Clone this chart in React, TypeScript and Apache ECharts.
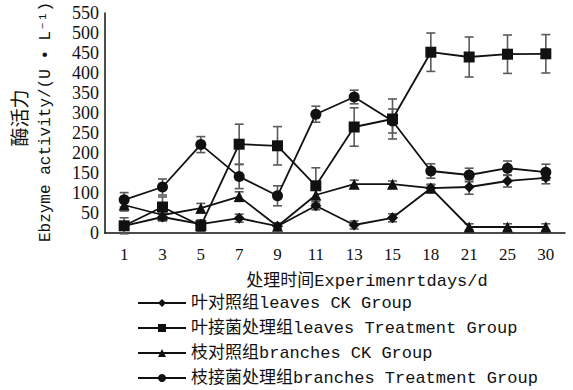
import React, { useEffect, useRef } from "react";
import * as echarts from "echarts";

// Sampling days (d)
const days = ["1", "3", "5", "7", "9", "11", "13", "15", "18", "21", "25", "30"];

// Enzyme activity, U·L⁻¹
const leavesCK = [18, 40, 22, 37, 17, 68, 20, 38, 112, 115, 130, 138];
const leavesCKErr = [10, 10, 8, 10, 8, 10, 10, 10, 10, 18, 15, 15];

const leavesTreat = [18, 65, 18, 222, 218, 118, 265, 285, 452, 440, 447, 448];
const leavesTreatErr = [20, 25, 15, 50, 48, 45, 48, 50, 48, 50, 48, 48];

const branchesCK = [70, 45, 62, 91, 17, 95, 122, 122, 112, 15, 15, 15];
const branchesCKErr = [15, 12, 12, 12, 8, 12, 10, 8, 8, 8, 8, 8];

const branchesTreat = [83, 115, 221, 141, 93, 297, 340, 280, 155, 145, 162, 152];
const branchesTreatErr = [18, 20, 20, 30, 25, 20, 17, 30, 18, 17, 18, 20];

const seriesNames = [
  "叶对照组leaves CK Group",
  "叶接菌处理组leaves Treatment Group",
  "枝对照组branches CK Group",
  "枝接菌处理组branches Treatment Group",
];

const FONT = "'Liberation Mono', 'Noto Sans CJK SC', monospace";
const SERIF = "'Liberation Serif', 'DejaVu Serif', serif";

function errorSeries(name: string, values: number[], errs: number[]) {
  return {
    type: "custom",
    name,
    z: 1,
    silent: true,
    data: values.map((v, i) => [i, v, errs[i]]),
    renderItem: (_params: any, api: any) => {
      const idx = api.value(0);
      const v = api.value(1);
      const e = api.value(2);
      const top = api.coord([idx, v + e]);
      const bot = api.coord([idx, v - e]);
      const half = 4.5;
      const style = { stroke: "#5a5a5a", lineWidth: 1.6 };
      return {
        type: "group",
        children: [
          { type: "line", shape: { x1: top[0], y1: top[1], x2: bot[0], y2: bot[1] }, style },
          { type: "line", shape: { x1: top[0] - half, y1: top[1], x2: top[0] + half, y2: top[1] }, style },
          { type: "line", shape: { x1: bot[0] - half, y1: bot[1], x2: bot[0] + half, y2: bot[1] }, style },
        ],
      };
    },
  };
}

function lineSeries(name: string, values: number[], symbol: string, size: number) {
  return {
    type: "line",
    name,
    z: 3,
    data: values,
    symbol,
    symbolSize: size,
    showAllSymbol: true,
    lineStyle: { color: "#111", width: 1.8 },
    itemStyle: { color: "#111" },
  };
}

export default function App() {
  const ref = useRef<HTMLDivElement>(null);

  useEffect(() => {
    document.body.style.margin = "0";
    if (!ref.current) return;
    const chart = echarts.init(ref.current, null, { renderer: "svg" });
    chart.setOption({
      animation: false,
      backgroundColor: "#fff",
      grid: { left: 105, right: 8, top: 13, bottom: 157 },
      xAxis: {
        type: "category",
        data: days,
        boundaryGap: true,
        axisLine: { lineStyle: { color: "#111", width: 1.5 } },
        axisTick: { show: false },
        axisLabel: { color: "#111", fontFamily: SERIF, fontSize: 17, margin: 13, interval: 0 },
      },
      yAxis: {
        type: "value",
        min: 0,
        max: 550,
        interval: 50,
        splitLine: { show: false },
        axisLine: { show: true, lineStyle: { color: "#111", width: 1.5 } },
        axisTick: { show: false },
        axisLabel: { color: "#111", fontFamily: SERIF, fontSize: 18, margin: 6 },
      },
      legend: {
        data: seriesNames,
        orient: "vertical",
        left: 137,
        top: 294,
        padding: 0,
        itemWidth: 48,
        itemHeight: 10,
        itemGap: 7,
        textStyle: { color: "#111", fontFamily: FONT, fontSize: 17, lineHeight: 18 },
      },
      graphic: [
        {
          type: "text",
          x: 367,
          y: 281,
          style: {
            text: "处理时间Experimenrtdays/d",
            fill: "#111",
            font: `17px ${FONT}`,
            textAlign: "center",
            textVerticalAlign: "middle",
          },
        },
        {
          type: "text",
          x: 22,
          y: 118,
          rotation: Math.PI / 2,
          style: {
            text: "酶活力",
            fill: "#111",
            font: `19px ${FONT}`,
            textAlign: "center",
            textVerticalAlign: "middle",
          },
        },
        {
          type: "text",
          x: 46,
          y: 122,
          rotation: Math.PI / 2,
          style: {
            text: "Ebzyme activity/(U • L⁻¹)",
            fill: "#111",
            font: `16px ${FONT}`,
            textAlign: "center",
            textVerticalAlign: "middle",
          },
        },
      ],
      series: [
        errorSeries("err-lck", leavesCK, leavesCKErr),
        errorSeries("err-ltr", leavesTreat, leavesTreatErr),
        errorSeries("err-bck", branchesCK, branchesCKErr),
        errorSeries("err-btr", branchesTreat, branchesTreatErr),
        lineSeries(seriesNames[0], leavesCK, "diamond", 11),
        lineSeries(seriesNames[1], leavesTreat, "rect", 11),
        lineSeries(seriesNames[2], branchesCK, "triangle", 11),
        lineSeries(seriesNames[3], branchesTreat, "circle", 11),
      ],
    });
    return () => chart.dispose();
  }, []);

  return <div ref={ref} style={{ width: 573, height: 390 }} />;
}
